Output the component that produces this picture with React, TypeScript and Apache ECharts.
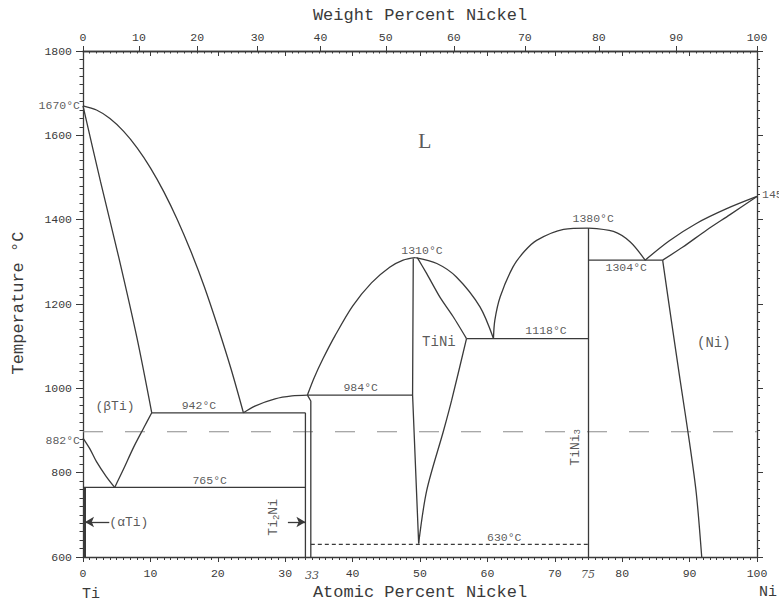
import React, { useEffect, useRef } from 'react';
import * as echarts from 'echarts';

// ---------- axis / tick data ----------
const weightTickLabels = ['0', '10', '20', '30', '40', '50', '60', '70', '80', '90', '100'];
// atomic-% positions of the weight-% ticks
const weightTickPositions = [0, 8.31, 16.94, 25.9, 35.22, 44.92, 55.02, 65.56, 76.54, 88.01, 100];

// ---------- phase boundaries: [atomic % Ni, temperature °C] ----------
const liquidusBetaTi = [[0, 1670], [2, 1660], [4, 1640], [6, 1610], [8, 1571], [10, 1523], [12, 1466], [14, 1400], [16, 1325], [18, 1241], [20, 1146], [22, 1044], [23.8, 942]];
const solidusBetaTi = [[0, 1670], [2.6, 1490], [5.3, 1311], [8, 1120], [10.2, 942]];
const solvusBetaTi = [[4.7, 765], [6, 808], [7.5, 860], [9, 906], [10.2, 942]];
const alphaBetaTransus = [[0, 882], [1, 857], [2, 826], [3.4, 792], [4.7, 765]];
const alphaTiSolvus = [[0.3, 765], [0.3, 600]];
const eutectic942 = [[10.2, 942], [33, 942]];
const eutectoid765 = [[0, 765], [33, 765]];
const liquidusTi2Ni = [[23.8, 942], [25.5, 958], [28.5, 975], [31, 982], [33.3, 984]];
const ti2NiLine = [[33, 942], [33, 600]];
const tiNiLeftLow = [[33.3, 984], [33.8, 970], [33.8, 600]];
const peritectic984 = [[33.3, 984], [48.9, 984]];
const liquidusTiNiLeft = [[33.3, 984], [34.3, 1025], [35.6, 1070], [37.4, 1125], [40, 1195], [42.8, 1250], [45.5, 1287], [47.5, 1304], [49.3, 1310]];
const liquidusTiNiRight = [[49.3, 1310], [52.5, 1296], [55.4, 1264], [58.9, 1193], [60.9, 1118]];
const tiNiLeftBoundary = [[49.0, 1308], [48.9, 984], [49.8, 632]];
const tiNiRightUpper = [[49.6, 1310], [51, 1272], [53, 1215], [55, 1168], [56.9, 1118]];
const tiNiRightLower = [[56.9, 1118], [54.7, 972], [53.5, 900], [51, 758], [49.8, 632]];
const eutectic1118 = [[56.9, 1118], [75, 1118]];
const liquidusTiNi3Left = [[60.9, 1118], [61.1, 1161], [61.9, 1217], [63.8, 1288], [65.5, 1325], [67.3, 1351], [71.3, 1377], [75, 1380]];
const tiNi3Line = [[75, 1380], [75, 600]];
const liquidusTiNi3Right = [[75, 1380], [78.7, 1372], [81.2, 1347], [83.4, 1304]];
const eutectic1304 = [[75, 1304], [86, 1304]];
const liquidusNi = [[83.4, 1304], [87, 1350], [91, 1391], [95.5, 1426], [100, 1455]];
const solidusNi = [[86, 1304], [89, 1335], [92.5, 1375], [96, 1412], [100, 1455]];
const solvusNi = [[86, 1304], [87.3, 1160], [88.6, 1019], [90, 870], [91, 750], [91.8, 600]];
const eutectoid630 = [[33.8, 630], [75, 630]];
const scanDashLine = [[0, 897], [100, 897]];

// ---------- annotations (text, anchor in data coords) ----------
const annotations: any[] = [
  { text: 'L', at: [50.7, 1588], size: 22, family: 'Liberation Serif' },
  { text: '1670°C', at: [0, 1670], pos: 'left', dist: 3 },
  { text: '882°C', at: [0, 877], pos: 'left', dist: 3 },
  { text: '1455°C', at: [100, 1460], pos: 'right', dist: 5 },
  { text: '(βTi)', at: [4.75, 957], size: 13 },
  { text: '942°C', at: [17.2, 960] },
  { text: '765°C', at: [18.8, 782] },
  { text: '(αTi)', at: [6.8, 683], size: 13 },
  { text: '984°C', at: [41.2, 1002] },
  { text: '1310°C', at: [50.3, 1327] },
  { text: 'TiNi', at: [52.8, 1109], size: 14 },
  { text: '1118°C', at: [68.7, 1138] },
  { text: '1380°C', at: [75.7, 1403] },
  { text: '1304°C', at: [80.6, 1287] },
  { text: '(Ni)', at: [93.6, 1107], size: 14 },
  { text: '630°C', at: [62.5, 647] },
  { text: 'Ti{s|2}Ni', at: [28.3, 694], size: 13, rotate: 90 },
  { text: 'TiNi{s|3}', at: [73.0, 860], size: 13, rotate: 90 },
];

const arrows = [
  [[3.9, 683], [0.3, 683]],
  [[30.4, 683], [33, 683]],
];

const INK = '#3a3a3a';
const MONO = 'Liberation Mono';

function boundary(data: number[][], smooth: number | boolean = false, extra: any = {}) {
  return {
    type: 'line',
    data,
    smooth,
    symbol: 'none',
    silent: true,
    xAxisIndex: 0,
    yAxisIndex: 0,
    lineStyle: { color: INK, width: 1.3 },
    z: 3,
    ...extra,
  };
}

function buildOption() {
  const axisBase = {
    type: 'value',
    min: 0,
    max: 100,
    splitLine: { show: false },
    minorSplitLine: { show: false },
  };
  return {
    animation: false,
    backgroundColor: '#ffffff',
    grid: { left: 83, right: 22, top: 51, bottom: 48, outerBoundsMode: 'none' },
    xAxis: [
      {
        ...axisBase,
        position: 'bottom',
        interval: 10,
        axisLine: { onZero: false, lineStyle: { color: INK, width: 1.3 } },
        axisTick: { show: true, length: 5, lineStyle: { color: INK } },
        minorTick: { show: true, splitNumber: 10, length: 3, lineStyle: { color: INK } },
        axisLabel: { margin: 10, fontFamily: MONO, fontSize: 11.5, color: INK, formatter: (v: number) => String(v) },
      },
      {
        ...axisBase,
        position: 'top',
        axisLine: { onZero: false, lineStyle: { color: INK, width: 1.3 } },
        axisTick: { show: true, length: 5, customValues: weightTickPositions, lineStyle: { color: INK } },
        axisLabel: {
          margin: 8,
          fontFamily: MONO,
          fontSize: 11.5,
          color: INK,
          customValues: weightTickPositions,
          formatter: (v: number) => {
            const i = weightTickPositions.findIndex((p) => Math.abs(p - v) < 0.05);
            return i >= 0 ? weightTickLabels[i] : '';
          },
        },
      },
      {
        ...axisBase,
        position: 'top',
        interval: 10,
        axisLine: { onZero: false, lineStyle: { color: INK, width: 1.3 } },
        axisTick: { show: true, inside: true, length: 5, lineStyle: { color: INK } },
        minorTick: { show: true, splitNumber: 10, length: 2.5, lineStyle: { color: INK } },
        axisLabel: { show: false },
      },
    ],
    yAxis: [
      {
        type: 'value',
        position: 'left',
        min: 600,
        max: 1800,
        interval: 200,
        splitLine: { show: false },
        axisLine: { onZero: false, lineStyle: { color: INK, width: 1.3 } },
        axisTick: { show: true, length: 7, lineStyle: { color: INK } },
        minorTick: { show: true, splitNumber: 10, length: 3.5, lineStyle: { color: INK } },
        axisLabel: { margin: 11, fontFamily: MONO, fontSize: 11.5, color: INK, formatter: (v: number) => String(v) },
      },
      {
        type: 'value',
        position: 'right',
        min: 600,
        max: 1800,
        interval: 200,
        splitLine: { show: false },
        axisLine: { onZero: false, lineStyle: { color: INK, width: 1.3 } },
        axisTick: { show: true, length: 6, lineStyle: { color: INK } },
        minorTick: { show: true, splitNumber: 10, length: 3, lineStyle: { color: INK } },
        axisLabel: { show: false },
      },
    ],
    series: [
      boundary(liquidusBetaTi, 0.3),
      boundary(solidusBetaTi, 0.3),
      boundary(solvusBetaTi, 0.3),
      boundary(alphaBetaTransus, 0.3),
      boundary(alphaTiSolvus, false, {
        lineStyle: { color: INK, width: 2 },
        markLine: {
          silent: true,
          symbol: ['none', 'arrow'],
          symbolSize: [8, 9],
          label: { show: false },
          lineStyle: { color: INK, width: 1.3, type: 'solid' },
          data: arrows.map(([a, b]) => [{ coord: a }, { coord: b }]),
        },
      }),
      boundary(eutectic942),
      boundary(eutectoid765),
      boundary(liquidusTi2Ni, 0.3),
      boundary(ti2NiLine),
      boundary(tiNiLeftLow),
      boundary(peritectic984),
      boundary(liquidusTiNiLeft, 0.3),
      boundary(liquidusTiNiRight, 0.3),
      boundary(tiNiLeftBoundary),
      boundary(tiNiRightUpper, 0.2),
      boundary(tiNiRightLower, 0.3),
      boundary(eutectic1118),
      boundary(liquidusTiNi3Left, 0.3),
      boundary(tiNi3Line),
      boundary(liquidusTiNi3Right, 0.3),
      boundary(eutectic1304),
      boundary(liquidusNi, 0.3),
      boundary(solidusNi, 0.3),
      boundary(solvusNi, 0.3),
      boundary(eutectoid630, false, { lineStyle: { color: INK, width: 1.3, type: [4, 3] } }),
      boundary(scanDashLine, false, { lineStyle: { color: '#8c8c8c', width: 1.2, type: [20, 22] }, z: 2 }),
      {
        type: 'scatter',
        silent: true,
        symbolSize: 0,
        xAxisIndex: 0,
        yAxisIndex: 0,
        clip: false,
        z: 5,
        data: annotations.map((a) => ({
          value: a.at,
          label: {
            show: true,
            formatter: a.text,
            position: a.pos || 'inside',
            distance: a.dist ?? 5,
            rotate: a.rotate || 0,
            fontFamily: a.family || MONO,
            fontSize: a.size || 11.5,
            color: '#2e2e2e',
            rich: {
              s: { fontFamily: MONO, fontSize: 9, color: '#2e2e2e', padding: [6, 0, 0, 0] },
            },
          },
        })),
      },
    ],
    graphic: [
      {
        type: 'text',
        x: 420,
        y: 15,
        style: { text: 'Weight Percent Nickel', fontFamily: MONO, fontSize: 17, fill: INK, align: 'center', verticalAlign: 'middle' },
      },
      {
        type: 'text',
        x: 420,
        y: 592,
        style: { text: 'Atomic Percent Nickel', fontFamily: MONO, fontSize: 17, fill: INK, align: 'center', verticalAlign: 'middle' },
      },
      {
        type: 'text',
        x: 91,
        y: 594,
        style: { text: 'Ti', fontFamily: MONO, fontSize: 15, fill: INK, align: 'center', verticalAlign: 'middle' },
      },
      {
        type: 'text',
        x: 768,
        y: 592,
        style: { text: 'Ni', fontFamily: MONO, fontSize: 15, fill: INK, align: 'center', verticalAlign: 'middle' },
      },
      {
        type: 'text',
        x: 18,
        y: 303,
        rotation: Math.PI / 2,
        style: { text: 'Temperature °C', fontFamily: MONO, fontSize: 17, fill: INK, align: 'center', verticalAlign: 'middle' },
      },
      {
        type: 'text',
        x: 312,
        y: 575,
        style: { text: '33', fontFamily: 'DejaVu Serif', fontStyle: 'italic', fontSize: 11, fill: '#555', align: 'center', verticalAlign: 'middle' },
      },
      {
        type: 'text',
        x: 588,
        y: 574,
        style: { text: '75', fontFamily: 'DejaVu Serif', fontStyle: 'italic', fontSize: 11, fill: '#555', align: 'center', verticalAlign: 'middle' },
      },
    ],
  };
}

export default function App() {
  const ref = useRef<HTMLDivElement>(null);
  useEffect(() => {
    if (!ref.current) return;
    const chart = echarts.init(ref.current, null, { renderer: 'svg' });
    chart.setOption(buildOption() as any);
    return () => chart.dispose();
  }, []);
  return (
    <div
      ref={ref}
      style={{ position: 'fixed', left: 0, top: 0, width: 779, height: 605, background: '#ffffff' }}
    />
  );
}
